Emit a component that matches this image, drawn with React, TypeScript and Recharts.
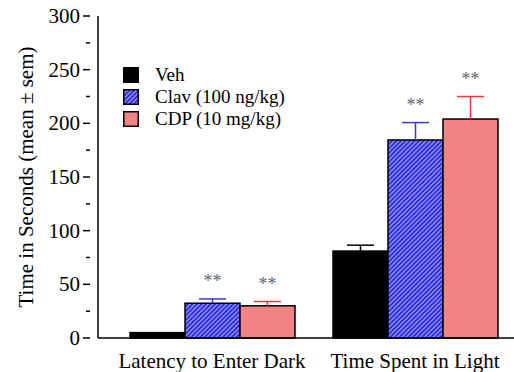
import React from 'react';
import { BarChart, Bar, XAxis, YAxis } from 'recharts';

const categories = ['Latency to Enter Dark', 'Time Spent in Light'];
const vehMean = [5, 81];
const vehSem = [0, 5.5];
const clavMean = [32.4, 184.5];
const clavSem = [4, 16.2];
const cdpMean = [30, 204];
const cdpSem = [4, 21];
const vehSig = ['', ''];
const clavSig = ['**', '**'];
const cdpSig = ['**', '**'];
const yTicks = [0, 25, 50, 75, 100, 125, 150, 175, 200, 225, 250, 275, 300];
const yLabels = [0, 50, 100, 150, 200, 250, 300];

const seriesNames = ['Veh', 'Clav (100 ng/kg)', 'CDP (10 mg/kg)'];

const data = categories.map((c, i) => ({
  name: c,
  veh: vehMean[i],
  vehErr: vehSem[i],
  vehSig: vehSig[i],
  clav: clavMean[i],
  clavErr: clavSem[i],
  clavSig: clavSig[i],
  cdp: cdpMean[i],
  cdpErr: cdpSem[i],
  cdpSig: cdpSig[i],
}));

const FONT = '"Liberation Serif", "Times New Roman", serif';
const BLUE_FILL = 'url(#hatch)';
const PINK = '#f08383';

const makeShape = (key: string, fill: string, errColor: string) => (props: any) => {
  const { x, y, width, height, payload } = props;
  const val = payload[key];
  const err = payload[key + 'Err'];
  const sig = payload[key + 'Sig'];
  const ppu = val > 0 ? height / val : 0;
  const errPx = err * ppu;
  const cx = x + width / 2;
  const top = y - errPx;
  return (
    <g>
      <rect x={x} y={y} width={width} height={height} fill={fill} stroke="#000" strokeWidth={1.5} />
      {err > 0 && (
        <g stroke={errColor} strokeWidth={1.5}>
          <line x1={cx} y1={y} x2={cx} y2={top} />
          <line x1={cx - 13.5} y1={top} x2={cx + 13.5} y2={top} />
        </g>
      )}
      {sig && (
        <text x={cx} y={top - 12} textAnchor="middle" fontSize={18} fill="#666" fontFamily={FONT}>
          {sig}
        </text>
      )}
    </g>
  );
};

const YTick = (props: any) => {
  const { x, y, payload } = props;
  const major = yLabels.includes(payload.value);
  return (
    <g>
      <line x1={x} y1={y} x2={x - (major ? 7 : 4)} y2={y} stroke="#000" strokeWidth={1.5} />
      {major && (
        <text x={x - 10} y={y} dy={7} textAnchor="end" fontSize={21} fontFamily={FONT} fill="#000">
          {payload.value}
        </text>
      )}
    </g>
  );
};

const XTick = (props: any) => {
  const { x, y, payload } = props;
  return (
    <text x={x} y={y} dy={22} textAnchor="middle" fontSize={21} fontFamily={FONT} fill="#000">
      {payload.value}
    </text>
  );
};

const LegendBox = () => {
  const fills = ['#000', 'hatch', PINK];
  return (
    <div style={{ position: 'absolute', left: 123, top: 64, fontFamily: FONT, fontSize: 19, lineHeight: '22px', color: '#000' }}>
      {seriesNames.map((n, i) => (
        <div key={n} style={{ display: 'flex', alignItems: 'center', height: 22, whiteSpace: 'nowrap' }}>
          <svg width={16} height={16} style={{ marginRight: 16 }}>
            <defs>
              <pattern id={'lh' + i} patternUnits="userSpaceOnUse" width={3.2} height={3.2} patternTransform="rotate(45)">
                <rect width={3.2} height={3.2} fill="#2a2ad8" />
                <rect width={1.5} height={3.2} fill="#8c8cff" />
              </pattern>
            </defs>
            <rect x={0.75} y={0.75} width={14.5} height={14.5} fill={fills[i] === 'hatch' ? `url(#lh${i})` : fills[i]} stroke="#000" strokeWidth={1.5} />
          </svg>
          <span>{n}</span>
        </div>
      ))}
    </div>
  );
};

export default function App() {
  return (
    <div style={{ position: 'absolute', left: 0, top: 0, width: 514, height: 372, overflow: 'hidden', background: '#fff' }}>
      <BarChart
        width={520}
        height={372}
        data={data}
        margin={{ top: 16, right: 3.5, left: 38, bottom: 0 }}
        barCategoryGap={19.5}
        barGap={0}
      >
        <defs>
          <pattern id="hatch" patternUnits="userSpaceOnUse" width={3.2} height={3.2} patternTransform="rotate(45)">
            <rect width={3.2} height={3.2} fill="#2a2ad8" />
            <rect width={1.5} height={3.2} fill="#8c8cff" />
          </pattern>
        </defs>
        <XAxis
          dataKey="name"
          height={34}
          padding={{ left: 12.5, right: 0 }}
          axisLine={{ stroke: '#000', strokeWidth: 1.5 }}
          tickLine={false}
          tick={<XTick />}
          interval={0}
        />
        <YAxis
          width={60}
          domain={[0, 300]}
          ticks={yTicks}
          interval={0}
          axisLine={{ stroke: '#000', strokeWidth: 1.5 }}
          tickLine={false}
          tick={<YTick />}
          label={{
            value: 'Time in Seconds (mean ± sem)',
            angle: -90,
            position: 'insideLeft',
            offset: 0,
            dx: -12,
            style: { textAnchor: 'middle', fontSize: 21, fontFamily: FONT, fill: '#000' },
          }}
        />
        <Bar dataKey="veh" isAnimationActive={false} shape={makeShape('veh', '#000', '#000')} />
        <Bar dataKey="clav" isAnimationActive={false} shape={makeShape('clav', BLUE_FILL, '#3b3bd0')} />
        <Bar dataKey="cdp" isAnimationActive={false} shape={makeShape('cdp', PINK, '#e23a3a')} />
      </BarChart>
      <LegendBox />
    </div>
  );
}
